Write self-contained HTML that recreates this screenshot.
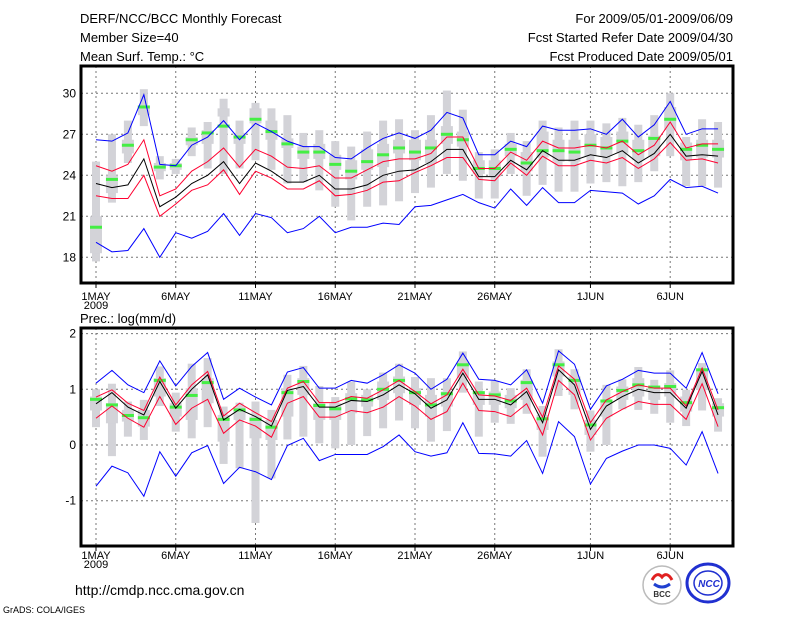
<!DOCTYPE html>
<html><head><meta charset="utf-8">
<style>
body{margin:0;background:#fff;width:800px;height:618px;overflow:hidden}
svg{display:block}
text{font-family:"Liberation Sans",sans-serif}
</style></head>
<body>
<svg id="chart" width="800" height="618" viewBox="0 0 800 618">
<g font-size="13" fill="#000">
<text x="80" y="23">DERF/NCC/BCC Monthly Forecast</text>
<text x="80" y="42">Member Size=40</text>
<text x="80" y="61">Mean Surf. Temp.: °C</text>
<text x="733" y="23" text-anchor="end">For 2009/05/01-2009/06/09</text>
<text x="733" y="42" text-anchor="end">Fcst Started Refer Date 2009/04/30</text>
<text x="733" y="61" text-anchor="end">Fcst Produced Date 2009/05/01</text>
<text x="80" y="323">Prec.: log(mm/d)</text>
</g>
<text x="75" y="595" font-size="14">http://cmdp.ncc.cma.gov.cn</text>
<text x="3" y="613" font-size="9">GrADS: COLA/IGES</text>
<g>
<circle cx="662" cy="585" r="19" fill="#fff" stroke="#bbb" stroke-width="1.5"/>
<path d="M652 580 q5 -9 10 -3 q5 -6 10 3" fill="none" stroke="#e02020" stroke-width="3"/>
<path d="M654 584 q8 6 16 0" fill="none" stroke="#2040d0" stroke-width="3"/>
<text x="662" y="597" font-size="8" text-anchor="middle" font-weight="bold" fill="#333">BCC</text>
</g>
<g>
<ellipse cx="708" cy="583" rx="21" ry="19" fill="#fff" stroke="#2030d0" stroke-width="3"/>
<ellipse cx="708" cy="583" rx="14" ry="12" fill="none" stroke="#2030d0" stroke-width="1.5"/>
<text x="709" y="587" font-size="10" text-anchor="middle" font-weight="bold" font-style="italic" fill="#2030d0">NCC</text>
</g>
<g id="plots"></g>
</svg>
<script>
// ---- data: days May 1 .. Jun 9 ----
const xLabels = ["1MAY","6MAY","11MAY","16MAY","21MAY","26MAY","1JUN","6JUN"];
const xLabelDays = [0,5,10,15,20,25,31,36];
// Temperature panel
const tTicks = [18,21,24,27,30];
const tBlueHi = [26.6,26.5,27.1,29.9,24.8,24.7,26.2,26.8,28.0,26.6,27.8,27.2,26.5,26.1,26.1,25.3,25.2,26.0,26.7,27.1,26.7,27.3,28.6,28.2,25.5,25.5,26.5,26.1,27.6,27.3,27.3,27.4,27.0,28.1,26.8,27.7,29.4,27.0,27.4,27.4];
const tRedHi = [24.7,24.3,24.8,26.6,22.5,23.0,24.3,25.0,26.0,24.6,25.9,25.4,24.6,24.5,24.7,23.8,23.8,24.4,25.0,25.2,25.2,25.6,26.8,26.8,24.5,24.5,25.7,25.1,26.5,26.0,26.0,26.2,26.0,26.5,25.5,26.2,27.9,26.0,26.3,26.3];
const tMean = [23.4,23.1,23.3,25.2,21.7,22.4,23.4,24.0,25.0,23.4,24.9,24.3,23.5,23.5,24.0,23.0,23.0,23.3,24.0,24.3,24.4,25.0,25.9,25.9,23.9,23.9,25.1,24.4,25.8,25.1,25.1,25.5,25.3,25.8,24.9,25.6,27.0,25.4,25.5,25.4];
const tRedLo = [22.5,22.3,22.3,24.0,21.0,21.9,22.9,23.3,24.4,22.6,24.3,23.8,23.0,23.0,23.6,22.5,22.6,22.9,23.5,23.6,24.2,24.7,25.3,25.3,23.7,23.6,24.9,24.0,25.4,24.7,24.7,25.1,24.9,25.3,24.5,25.2,26.4,25.1,25.2,24.9];
const tBlueLo = [19.1,18.4,18.5,20.1,18.0,19.8,19.4,19.9,21.2,19.6,21.2,20.9,19.8,20.1,21.0,19.8,20.2,20.2,20.5,20.4,21.7,21.8,22.2,22.6,22.0,21.6,23.0,21.8,23.1,22.0,22.0,22.9,22.8,22.7,21.9,22.5,23.7,23.1,23.2,22.7];
const tMedian = [20.2,23.7,26.2,29.0,24.6,24.7,26.6,27.1,27.6,26.8,28.1,27.2,26.3,25.7,25.7,24.8,24.3,25.0,25.5,26.0,25.7,26.0,27.0,26.6,24.5,24.5,25.9,24.9,25.8,25.8,25.7,26.2,26.0,26.5,25.8,26.7,28.1,25.9,26.2,25.9];
const tMax = [25.0,27.0,28.0,30.3,25.4,25.2,27.5,27.9,29.6,28.0,29.3,28.9,28.4,27.1,27.3,26.5,26.1,27.2,28.0,28.1,27.3,28.4,30.2,28.8,25.7,25.9,27.1,26.5,28.0,27.5,28.0,28.0,27.8,28.2,27.7,28.4,30.0,26.8,28.1,27.9];
const tMin = [17.7,22.0,24.9,27.6,23.7,24.1,25.4,24.5,24.1,24.5,25.1,24.4,23.4,23.5,22.9,21.7,20.7,21.7,21.8,22.1,22.7,23.1,24.1,23.6,22.3,22.3,24.1,22.5,23.3,22.8,22.8,23.4,23.5,23.2,23.5,24.3,25.4,23.2,23.2,23.1];
const tQHi = [21.0,24.0,26.6,29.1,24.9,24.9,26.8,27.3,28.9,27.1,28.9,28.0,26.7,26.1,26.3,25.5,25.1,25.9,26.3,26.6,26.6,26.6,27.6,27.2,25.1,25.1,26.3,25.7,27.2,26.6,26.6,27.0,26.8,27.2,26.6,26.9,29.0,26.4,26.6,26.6];
const tQLo = [18.3,22.7,25.6,28.4,24.3,24.4,26.2,26.3,28.3,26.3,27.8,26.6,26.0,25.2,25.2,24.4,23.7,24.4,24.6,25.6,25.1,24.9,26.3,26.1,24.1,23.9,25.4,24.3,25.3,25.0,25.0,25.4,25.4,25.6,25.1,25.4,27.3,25.1,25.3,25.3];
// Precipitation panel
const pTicks = [-1,0,1,2];
const pBlueHi = [1.11,1.34,1.08,0.94,1.51,1.06,1.41,1.66,0.82,1.02,0.86,0.72,1.31,1.39,1.02,1.02,1.16,1.11,1.26,1.44,1.29,1.0,1.18,1.65,1.18,1.16,1.08,1.35,0.75,1.69,1.45,0.64,1.06,1.18,1.34,1.29,1.29,1.02,1.66,0.92];
const pRedHi = [0.86,0.99,0.75,0.62,1.22,0.72,1.08,1.32,0.52,0.75,0.58,0.42,1.02,1.14,0.76,0.76,0.87,0.84,0.99,1.16,0.96,0.74,0.90,1.36,0.90,0.88,0.80,1.02,0.50,1.42,1.18,0.40,0.81,0.96,1.08,1.02,1.02,0.70,1.38,0.63];
const pMean = [0.74,0.94,0.68,0.54,1.14,0.66,1.0,1.26,0.45,0.64,0.51,0.34,0.98,1.05,0.68,0.68,0.80,0.78,0.90,1.08,0.92,0.66,0.81,1.29,0.82,0.82,0.72,0.96,0.40,1.35,1.08,0.28,0.70,0.87,1.0,0.94,0.94,0.66,1.32,0.54];
const pRedLo = [0.48,0.70,0.48,0.32,0.87,0.37,0.66,0.82,0.21,0.45,0.34,0.14,0.75,0.87,0.50,0.50,0.62,0.58,0.68,0.87,0.70,0.46,0.60,1.11,0.62,0.60,0.51,0.74,0.18,1.16,0.90,0.09,0.48,0.64,0.78,0.73,0.73,0.46,1.10,0.33];
const pBlueLo = [-0.74,-0.38,-0.50,-0.92,-0.12,-0.56,-0.14,-0.01,-0.69,-0.40,-0.48,-0.62,-0.01,0.12,-0.28,-0.17,-0.17,-0.17,-0.03,0.18,-0.12,-0.20,-0.14,0.40,-0.15,-0.16,-0.20,0.08,-0.51,0.42,0.15,-0.70,-0.24,-0.11,0.0,0.0,-0.06,-0.36,0.24,-0.51];
const pMedian = [0.82,0.72,0.53,0.49,1.16,0.68,0.89,1.12,0.46,0.63,0.46,0.32,0.94,1.14,0.71,0.65,0.83,0.81,1.0,1.16,0.94,0.72,0.92,1.44,0.94,0.90,0.79,1.12,0.47,1.44,1.16,0.36,0.79,0.98,1.08,1.04,1.05,0.76,1.35,0.67];
const pMax = [1.0,1.1,0.78,0.81,1.41,0.94,1.46,1.56,0.69,0.76,0.78,0.63,1.26,1.42,1.06,0.86,1.14,1.0,1.30,1.46,1.22,1.20,1.20,1.68,1.14,1.15,1.02,1.36,0.70,1.72,1.36,0.62,1.08,1.18,1.40,1.17,1.34,0.99,1.47,0.84];
const pMin = [0.32,-0.2,0.15,0.09,0.70,0.24,0.12,0.32,-0.34,-0.42,-1.40,-0.6,0.10,0.15,0.03,-0.06,0.0,0.16,0.30,0.44,0.30,0.06,0.25,0.94,0.15,0.40,0.38,0.56,-0.21,0.88,0.64,-0.12,0.0,0.64,0.63,0.56,0.40,0.34,0.62,0.24];
const pQHi = [0.87,0.75,0.63,0.63,1.2,0.75,1.02,1.2,0.54,0.69,0.51,0.45,1.02,1.2,0.75,0.75,0.93,0.9,1.14,1.23,1.02,0.9,0.96,1.5,0.96,0.96,0.9,1.17,0.54,1.5,1.23,0.45,0.81,1.05,1.2,1.05,1.11,0.87,1.35,0.75];
const pQLo = [0.62,0.39,0.42,0.33,0.87,0.51,0.45,0.75,0.06,0.45,0.12,0.09,0.51,0.9,0.45,0.45,0.57,0.69,0.81,0.93,0.72,0.51,0.69,1.2,0.72,0.72,0.66,0.81,0.27,1.23,0.9,0.18,0.51,0.81,0.87,0.81,0.87,0.6,0.99,0.51];

const NS = "http://www.w3.org/2000/svg";
const root = document.getElementById("plots");
function mk(tag, attrs, parent){
  const e = document.createElementNS(NS, tag);
  for (const k in attrs) e.setAttribute(k, attrs[k]);
  parent.appendChild(e); return e;
}
const xL = 81, xR = 733;
function xDay(d){ return 96 + d*15.95; }

function panel(name, top, bottom, vTop, yTop, vBot, yBot, ticks, s, labelY){
  const g = mk("g", {}, root);
  
  
  const y = v => yTop + (v - vTop) * (yBot - yTop) / (vBot - vTop);
  // grid
  ticks.forEach(t => {
    const l = mk("line", {x1:xL, x2:xR, y1:y(t), y2:y(t), stroke:"#777", "stroke-width":1, "stroke-dasharray":"2,3"}, g);
    
    
    const tx = mk("text", {x:xL-5, y:y(t)+4, "font-size":12, "text-anchor":"end"}, g);
    
    
    tx.textContent = t;
  });
  xLabelDays.forEach((d, i) => {
    const l = mk("line", {x1:xDay(d), x2:xDay(d), y1:top, y2:bottom, stroke:"#777", "stroke-width":1, "stroke-dasharray":"2,3"}, g);
    
    
    const tk = mk("line", {x1:xDay(d), x2:xDay(d), y1:bottom, y2:bottom+5, stroke:"#000"}, g);
    
    
    const tx = mk("text", {x:xDay(d), y:labelY, "font-size":11, "text-anchor":"middle"}, g);
    
    
    tx.textContent = xLabels[i];
  });
  const yr = mk("text", {x:xDay(0), y:labelY+9, "font-size":11, "text-anchor":"middle"}, g);
  
  
  yr.textContent = "2009";
  // boxes
  s.max.forEach((v, d) => {
    const x = xDay(d);
    const r1 = mk("rect", {x:x-4, y:y(v), width:8, height:Math.max(1, y(s.min[d])-y(v)), fill:"#d3d3d8"}, g);
    
    
    const r2 = mk("rect", {x:x-6, y:y(s.qhi[d]), width:12, height:Math.max(1, y(s.qlo[d])-y(s.qhi[d])), fill:"#d3d3d8"}, g);
    
    
  });
  s.med.forEach((v, d) => {
    const x = xDay(d);
    const m = mk("rect", {x:x-6, y:y(v)-1.5, width:12, height:3, fill:"#44ee44"}, g);
    
    
  });
  const lines = [[s.bhi,"#0000ff","upper-blue-line"],[s.rhi,"#ff0030","upper-red-line"],[s.mean,"#000","mean-line"],[s.rlo,"#ff0030","lower-red-line"],[s.blo,"#0000ff","lower-blue-line"]];
  lines.forEach(([arr, col, nm]) => {
    const p = mk("polyline", {points: arr.map((v,d)=>xDay(d)+","+y(v)).join(" "), fill:"none", stroke:col, "stroke-width":1}, g);
    
    
  });
  const f = mk("rect", {x:xL, y:top, width:xR-xL, height:bottom-top, fill:"none", stroke:"#000", "stroke-width":3}, g);
  
  
}
panel("temperature-panel", 66, 283, 30, 93.3, 18, 257.3, tTicks,
  {bhi:tBlueHi, rhi:tRedHi, mean:tMean, rlo:tRedLo, blo:tBlueLo, med:tMedian, max:tMax, min:tMin, qhi:tQHi, qlo:tQLo}, 300);
panel("precipitation-panel", 328, 546, 1, 389.3, 0, 445, pTicks,
  {bhi:pBlueHi, rhi:pRedHi, mean:pMean, rlo:pRedLo, blo:pBlueLo, med:pMedian, max:pMax, min:pMin, qhi:pQHi, qlo:pQLo}, 559);
</script>
</body></html>
